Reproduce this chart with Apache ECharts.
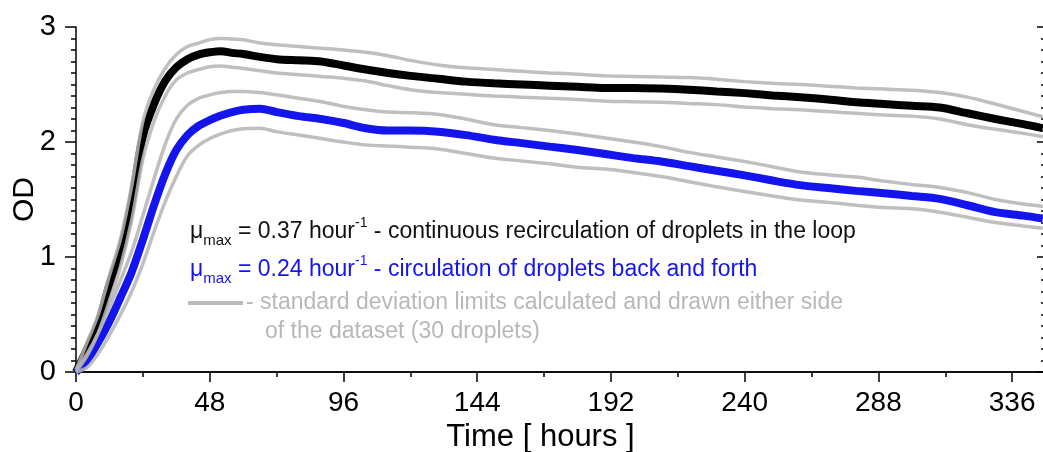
<!DOCTYPE html>
<html>
<head>
<meta charset="utf-8">
<script src="https://cdn.jsdelivr.net/npm/echarts@6/dist/echarts.min.js"></script>
<style>
  html, body { margin: 0; padding: 0; background: #fff; }
  #chart { width: 1043px; height: 452px; }
</style>
</head>
<body>
<div id="chart"></div>
<script>
// time in hours
const timeH = [0, 4, 8, 12, 16, 20, 24, 28, 32, 36, 40, 44, 48, 52, 56, 60, 66, 72, 80, 88, 96, 104, 112, 120,
  130, 140, 150, 160, 170, 180, 190, 200, 210, 220, 230, 240, 250, 260, 270, 280, 290, 300, 310, 320, 330, 340, 347]

// continuous recirculation in the loop (black)
const loopMean = [0, 0.20, 0.42, 0.76, 1.05, 1.48, 2.05, 2.33, 2.53, 2.65, 2.72, 2.76, 2.78, 2.79, 2.775, 2.765, 2.74, 2.72, 2.71, 2.70, 2.665, 2.63, 2.60, 2.575,
  2.55, 2.525, 2.51, 2.50, 2.49, 2.48, 2.47, 2.47, 2.465, 2.455, 2.44, 2.425, 2.405, 2.39, 2.37, 2.345, 2.33, 2.315, 2.30, 2.25, 2.20, 2.155, 2.12]
const loopUpper = [0.02, 0.26, 0.50, 0.84, 1.16, 1.62, 2.18, 2.46, 2.64, 2.76, 2.83, 2.86, 2.89, 2.90, 2.895, 2.89, 2.86, 2.845, 2.83, 2.815, 2.80, 2.78, 2.75, 2.71,
  2.67, 2.645, 2.63, 2.615, 2.60, 2.59, 2.575, 2.57, 2.565, 2.56, 2.545, 2.525, 2.51, 2.50, 2.485, 2.47, 2.46, 2.45, 2.43, 2.39, 2.33, 2.265, 2.22]
const loopLower = [0, 0.14, 0.34, 0.62, 0.92, 1.32, 1.85, 2.18, 2.40, 2.54, 2.60, 2.63, 2.655, 2.66, 2.65, 2.64, 2.62, 2.60, 2.585, 2.57, 2.555, 2.53, 2.49, 2.455,
  2.43, 2.415, 2.40, 2.39, 2.38, 2.37, 2.355, 2.35, 2.345, 2.335, 2.325, 2.305, 2.29, 2.28, 2.265, 2.25, 2.235, 2.225, 2.20, 2.15, 2.11, 2.075, 2.045]

// back and forth circulation (blue)
const bfMean = [0, 0.10, 0.26, 0.44, 0.65, 0.87, 1.15, 1.45, 1.72, 1.93, 2.06, 2.14, 2.19, 2.23, 2.26, 2.28, 2.29, 2.26, 2.225, 2.20, 2.165, 2.12, 2.10, 2.10,
  2.09, 2.06, 2.02, 1.99, 1.96, 1.93, 1.895, 1.86, 1.83, 1.79, 1.75, 1.71, 1.665, 1.625, 1.60, 1.575, 1.555, 1.53, 1.505, 1.45, 1.39, 1.36, 1.335]
const bfUpper = [0.02, 0.16, 0.34, 0.56, 0.80, 1.05, 1.36, 1.68, 1.98, 2.20, 2.32, 2.38, 2.41, 2.43, 2.44, 2.44, 2.43, 2.41, 2.38, 2.35, 2.31, 2.28, 2.26, 2.255,
  2.24, 2.20, 2.15, 2.125, 2.10, 2.07, 2.035, 2.00, 1.96, 1.91, 1.87, 1.83, 1.785, 1.74, 1.715, 1.695, 1.66, 1.63, 1.605, 1.56, 1.50, 1.46, 1.44]
const bfLower = [0, 0.04, 0.16, 0.32, 0.50, 0.70, 0.94, 1.22, 1.48, 1.70, 1.88, 1.97, 2.03, 2.07, 2.10, 2.115, 2.12, 2.09, 2.06, 2.03, 2.00, 1.975, 1.965, 1.955,
  1.94, 1.90, 1.86, 1.835, 1.81, 1.78, 1.765, 1.735, 1.70, 1.655, 1.61, 1.57, 1.53, 1.495, 1.475, 1.45, 1.43, 1.42, 1.39, 1.345, 1.30, 1.27, 1.25]

const font = 'Liberation Sans, Arial, sans-serif'
const pairs = (ys) => timeH.map((t, i) => [t, ys[i]])

const dataLine = (name, ys, color) => ({
  name: name,
  type: 'line',
  smooth: 0.3,
  showSymbol: false,
  z: 2,
  lineStyle: { width: 8, color: color },
  data: pairs(ys)
})
const sdLine = (ys) => ({
  type: 'line',
  smooth: 0.3,
  showSymbol: false,
  z: 3,
  lineStyle: { width: 3.5, color: 'rgba(180, 180, 180, 0.85)' },
  data: pairs(ys)
})

const axisLine = { show: true, lineStyle: { color: '#000', width: 1.5 } }
const tickStyle = { color: '#000', width: 1.5 }

const chart = echarts.init(document.getElementById('chart'))
chart.setOption({
  animation: false,
  grid: { left: 76, top: 27, width: 1003, height: 345, outerBoundsMode: 'none', containLabel: false },
  xAxis: [
    {
      type: 'value',
      min: 0,
      max: 360,
      interval: 48,
      position: 'bottom',
      name: 'Time [ hours ]',
      nameLocation: 'middle',
      nameGap: 48,
      nameTextStyle: { fontFamily: font, fontSize: 31, color: '#000', padding: [0, 74, 0, 0] },
      axisLine: axisLine,
      splitLine: { show: false },
      axisTick: { length: 10, lineStyle: tickStyle },
      minorTick: { show: true, splitNumber: 2, length: 5, lineStyle: tickStyle },
      axisLabel: { fontFamily: font, fontSize: 28, color: '#000', margin: 17, showMaxLabel: false }
    },
    {
      type: 'value',
      min: 0,
      max: 360,
      interval: 48,
      position: 'top',
      axisLine: axisLine,
      splitLine: { show: false },
      axisTick: { inside: true, length: 9, lineStyle: tickStyle },
      minorTick: { show: true, splitNumber: 2, length: 5, lineStyle: tickStyle },
      axisLabel: { show: false }
    }
  ],
  yAxis: [
    {
      type: 'value',
      min: 0,
      max: 3,
      interval: 1,
      name: 'OD',
      nameLocation: 'middle',
      nameGap: 36,
      nameMoveOverlap: false,
      nameTextStyle: { fontFamily: font, fontSize: 30, color: '#000' },
      axisLine: axisLine,
      splitLine: { show: false },
      axisTick: { length: 11, lineStyle: tickStyle },
      minorTick: { show: true, splitNumber: 10, length: 5, lineStyle: tickStyle },
      axisLabel: { fontFamily: font, fontSize: 29, color: '#000', margin: 20 }
    },
    {
      // frame on the right, at t = 347.5 h
      type: 'value',
      min: 0,
      max: 3,
      interval: 1,
      position: 'left',
      offset: -970,
      axisLine: axisLine,
      splitLine: { show: false },
      axisTick: { length: 9, lineStyle: tickStyle },
      minorTick: { show: true, splitNumber: 10, length: 5, lineStyle: tickStyle },
      axisLabel: { show: false }
    }
  ],
  series: [
    dataLine('loop', loopMean, '#000'),
    dataLine('back and forth', bfMean, '#1414ee'),
    sdLine(loopUpper),
    sdLine(loopLower),
    sdLine(bfUpper),
    sdLine(bfLower)
  ],
  graphic: [
    {
      type: 'text',
      left: 190,
      top: 216,
      style: {
        text: '{m|μ}{s|max}{t| = 0.37 hour}{p|-1}{t| - continuous recirculation of droplets in the loop}',
        fill: '#111',
        rich: {
          m: { fontFamily: font, fontSize: 23, fill: '#111', lineHeight: 32, verticalAlign: 'middle' },
          s: { fontFamily: font, fontSize: 15, fill: '#111', lineHeight: 32, verticalAlign: 'bottom' },
          t: { fontFamily: font, fontSize: 23, fill: '#111', lineHeight: 32, verticalAlign: 'middle' },
          p: { fontFamily: font, fontSize: 14, fill: '#111', lineHeight: 32, verticalAlign: 'top' }
        }
      }
    },
    {
      type: 'text',
      left: 190,
      top: 254,
      style: {
        text: '{m|μ}{s|max}{t| = 0.24 hour}{p|-1}{t| - circulation of droplets back and forth}',
        fill: '#1414ee',
        rich: {
          m: { fontFamily: font, fontSize: 23, fill: '#1414ee', lineHeight: 32, verticalAlign: 'middle' },
          s: { fontFamily: font, fontSize: 15, fill: '#1414ee', lineHeight: 32, verticalAlign: 'bottom' },
          t: { fontFamily: font, fontSize: 23, fill: '#1414ee', lineHeight: 32, verticalAlign: 'middle' },
          p: { fontFamily: font, fontSize: 14, fill: '#1414ee', lineHeight: 32, verticalAlign: 'top' }
        }
      }
    },
    {
      type: 'line',
      shape: { x1: 188, y1: 303, x2: 243, y2: 303 },
      style: { stroke: '#bbb', lineWidth: 4 }
    },
    {
      type: 'text',
      left: 246,
      top: 291,
      style: {
        text: '- standard deviation limits calculated and drawn either side',
        fontFamily: font,
        fontSize: 23,
        fill: '#b8b8b8'
      }
    },
    {
      type: 'text',
      left: 265,
      top: 320,
      style: {
        text: 'of the dataset (30 droplets)',
        fontFamily: font,
        fontSize: 23,
        fill: '#b8b8b8'
      }
    }
  ]
})
</script>
</body>
</html>
